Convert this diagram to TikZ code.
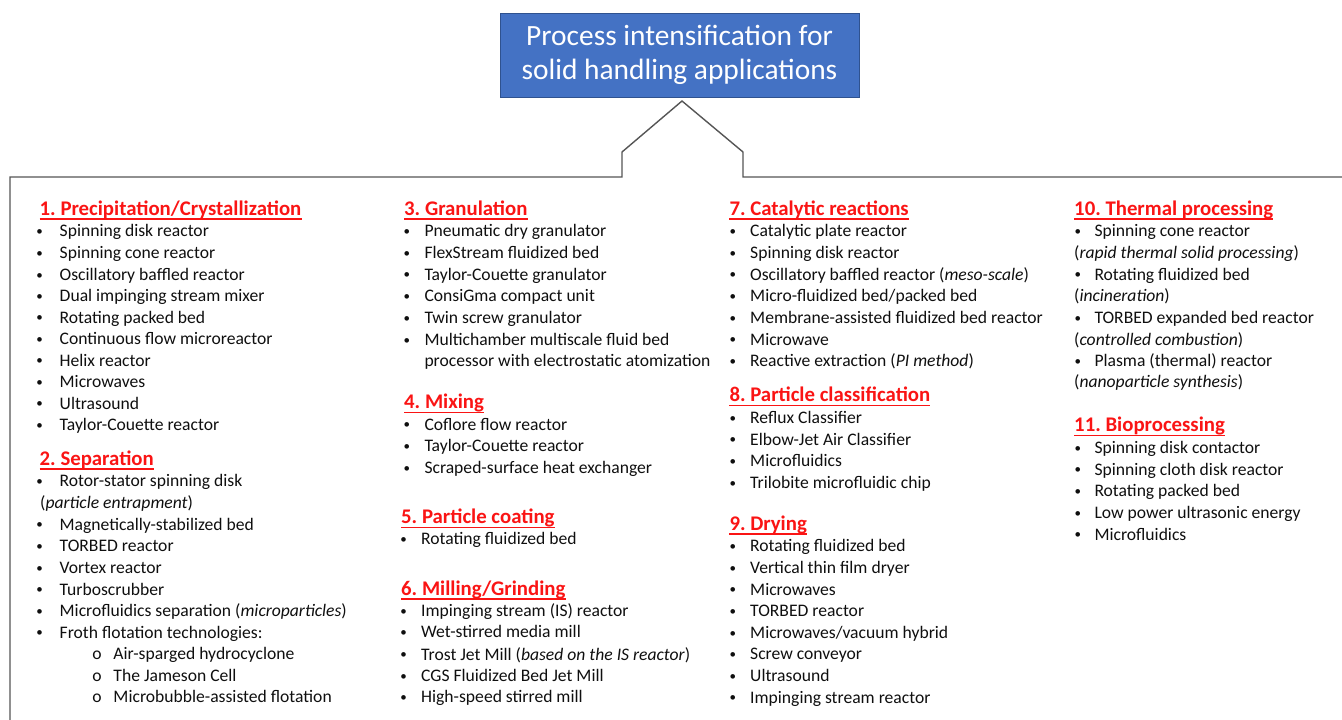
\documentclass[tikz,border=0pt]{standalone}
\usepackage{fontspec}
\setmainfont{Carlito}
\frenchspacing
\definecolor{hdred}{RGB}{250,20,20}
\definecolor{txt}{RGB}{15,15,15}
\definecolor{framegray}{RGB}{85,85,85}
\definecolor{boxblue}{RGB}{68,114,196}
\definecolor{boxedge}{RGB}{47,82,143}
\tikzset{
  hd/.style={anchor=base west, inner sep=0pt, text=hdred, font=\fontsize{20.8}{25}\selectfont\bfseries},
  itm/.style={anchor=base west, inner sep=0pt, text=txt, font=\fontsize{17.6}{21}\selectfont},
  frame/.style={draw=framegray, line width=1.4pt, line join=miter},
  titlebox/.style={draw=boxedge, line width=0.8pt, fill=boxblue, text=white, align=center,
    minimum width=359pt, minimum height=84pt, inner sep=0pt,
    font=\fontsize{29.4}{34}\selectfont},
}
\def\bg{18pt}
\newcommand\smallbul{\raisebox{1.2pt}{\fontsize{13}{13}\selectfont\textbullet}}
\newcommand\Hd[3]{\node[hd] (#1) at (#2) {#3};
  \draw[hdred, line width=1.2pt] ([yshift=-4pt]#1.base west) -- ([yshift=-4pt]#1.base east);}
\newcommand\Bi[3]{\node[itm] (#1) at (#2) {\llap{\makebox[0pt]{\smallbul}\hspace{\bg}}#3};}
\newcommand\Ci[3]{\node[itm] (#1) at (#2) {#3};}
\newcommand\Si[3]{\node[itm] (#1) at (#2) {\llap{\makebox[0pt]{o}\hspace{16.6pt}}#3};}
\begin{document}
\begin{tikzpicture}[x=1pt,y=-1pt]
\useasboundingbox (0,0) rectangle (1342,720);
% title
\node[titlebox] (title) at (679.5,55) {Process intensification for\\solid handling applications};
% bracket frame
\coordinate (peak) at (682,101);
\coordinate (fl) at (10,722);
\coordinate (fr) at (1344,177);
\draw[frame] (fl) -- (10,177) -- (622,177) -- (622,152) -- (peak) -- (743,152) -- (743,177) -- (fr);
% ---------- column 1
\def\bg{20pt}
\Hd{h1}{39.5,215}{1. Precipitation/Crystallization}
\Bi{a1}{59.5,236.7}{Spinning disk reactor}
\Bi{a2}{59.5,258.8}{Spinning cone reactor}
\Bi{a3}{59.5,280.5}{Oscillatory baffled reactor}
\Bi{a4}{59.5,301.8}{Dual impinging stream mixer}
\Bi{a5}{59.5,323}{Rotating packed bed}
\Bi{a6}{59.5,344.5}{Continuous flow microreactor}
\Bi{a7}{59.5,366}{Helix reactor}
\Bi{a8}{59.5,387.5}{Microwaves}
\Bi{a9}{59.5,409}{Ultrasound}
\Bi{a10}{59.5,430.5}{Taylor-Couette reactor}
\Hd{h2}{39.5,465}{2. Separation}
\Bi{b1}{59.5,486.7}{Rotor-stator spinning disk}
\Ci{b2}{40,508.3}{(\textit{particle entrapment})}
\Bi{b3}{59.5,530}{Magnetically-stabilized bed}
\Bi{b4}{59.5,551.7}{TORBED reactor}
\Bi{b5}{59.5,573.3}{Vortex reactor}
\Bi{b6}{59.5,595}{Turboscrubber}
\Bi{b7}{59.5,616.7}{Microfluidics separation (\textit{microparticles})}
\Bi{b8}{59.5,638}{Froth flotation technologies:}
\Si{b9}{113.3,659.7}{Air-sparged hydrocyclone}
\Si{b10}{113.3,681}{The Jameson Cell}
\Si{b11}{113.3,702.3}{Microbubble-assisted flotation}
% ---------- column 2
\def\bg{17.6pt}
\Hd{h3}{404,215}{3. Granulation}
\Bi{c1}{424.3,236.7}{Pneumatic dry granulator}
\Bi{c2}{424.3,258.3}{FlexStream fluidized bed}
\Bi{c3}{424.3,280}{Taylor-Couette granulator}
\Bi{c4}{424.3,301.7}{ConsiGma compact unit}
\Bi{c5}{424.3,323.3}{Twin screw granulator}
\Bi{c6}{424.3,345.3}{Multichamber multiscale fluid bed}
\Ci{c7}{424.3,366.7}{processor with electrostatic atomization}
\Hd{h4}{404,408.3}{4. Mixing}
\Bi{d1}{424.3,430}{Coflore flow reactor}
\Bi{d2}{424.3,451.7}{Taylor-Couette reactor}
\Bi{d3}{424.3,473.3}{Scraped-surface heat exchanger}
\Hd{h5}{401,523.3}{5. Particle coating}
\Bi{e1}{421,544.3}{Rotating fluidized bed}
\Hd{h6}{401,595}{6. Milling/Grinding}
\Bi{f1}{421,616.7}{Impinging stream (IS) reactor}
\Bi{f2}{421,637.5}{Wet-stirred media mill}
\Bi{f3}{421,660}{Trost Jet Mill (\textit{based on the IS reactor})}
\Bi{f4}{421,681.5}{CGS Fluidized Bed Jet Mill}
\Bi{f5}{421,702.3}{High-speed stirred mill}
% ---------- column 3
\def\bg{17.3pt}
\Hd{h7}{729.3,215}{7. Catalytic reactions}
\Bi{g1}{750,236.7}{Catalytic plate reactor}
\Bi{g2}{750,258.3}{Spinning disk reactor}
\Bi{g3}{750,280}{Oscillatory baffled reactor (\textit{meso-scale})}
\Bi{g4}{750,301.7}{Micro-fluidized bed/packed bed}
\Bi{g5}{750,323.3}{Membrane-assisted fluidized bed reactor}
\Bi{g6}{750,345}{Microwave}
\Bi{g7}{750,366.7}{Reactive extraction (\textit{PI method})}
\Hd{h8}{729.3,401.7}{8. Particle classification}
\Bi{k1}{750,423.3}{Reflux Classifier}
\Bi{k2}{750,445}{Elbow-Jet Air Classifier}
\Bi{k3}{750,466.7}{Microfluidics}
\Bi{k4}{750,488.5}{Trilobite microfluidic chip}
\Hd{h9}{729.3,530}{9. Drying}
\Bi{m1}{750,551.7}{Rotating fluidized bed}
\Bi{m2}{750,573.3}{Vertical thin film dryer}
\Bi{m3}{750,595}{Microwaves}
\Bi{m4}{750,616.7}{TORBED reactor}
\Bi{m5}{750,638.3}{Microwaves/vacuum hybrid}
\Bi{m6}{750,659.7}{Screw conveyor}
\Bi{m7}{750,681.5}{Ultrasound}
\Bi{m8}{750,703}{Impinging stream reactor}
% ---------- column 4
\def\bg{16.6pt}
\Hd{h10}{1074,215}{10. Thermal processing}
\Bi{n1}{1094.3,236.7}{Spinning cone reactor}
\Ci{n2}{1074,258.3}{(\textit{rapid thermal solid processing})}
\Bi{n3}{1094.3,280}{Rotating fluidized bed}
\Ci{n4}{1074,301.7}{(\textit{incineration})}
\Bi{n5}{1094.3,323.3}{TORBED expanded bed reactor}
\Ci{n6}{1074,345}{(\textit{controlled combustion})}
\Bi{n7}{1094.3,366.3}{Plasma (thermal) reactor}
\Ci{n8}{1074,387.5}{(\textit{nanoparticle synthesis})}
\Hd{h11}{1074,431.7}{11. Bioprocessing}
\Bi{p1}{1094.3,453.3}{Spinning disk contactor}
\Bi{p2}{1094.3,475}{Spinning cloth disk reactor}
\Bi{p3}{1094.3,496.7}{Rotating packed bed}
\Bi{p4}{1094.3,518.3}{Low power ultrasonic energy}
\Bi{p5}{1094.3,540}{Microfluidics}
\end{tikzpicture}
\end{document}
